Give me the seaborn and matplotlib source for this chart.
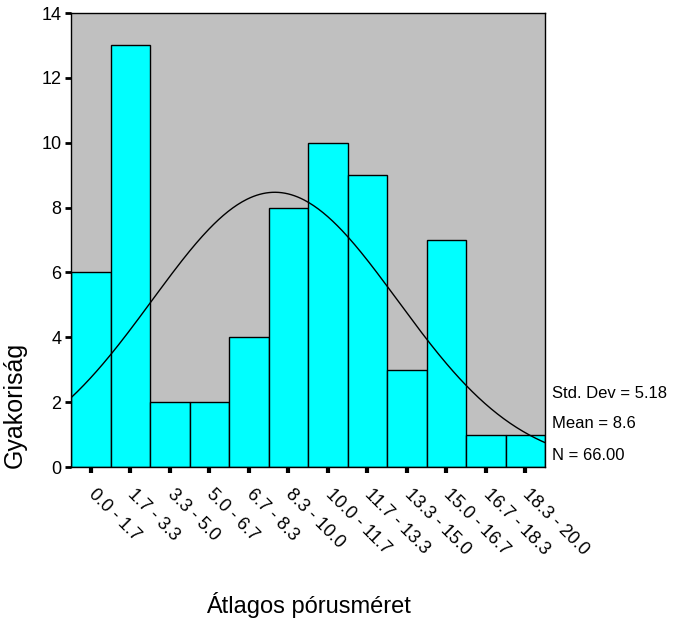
import numpy as np
import pandas as pd
import matplotlib
matplotlib.use("Agg")
import matplotlib.pyplot as plt
import seaborn as sns

# Data
bin_labels = ["0.0 - 1.7", "1.7 - 3.3", "3.3 - 5.0", "5.0 - 6.7", "6.7 - 8.3", "8.3 - 10.0",
              "10.0 - 11.7", "11.7 - 13.3", "13.3 - 15.0", "15.0 - 16.7", "16.7 - 18.3", "18.3 - 20.0"]
counts = [6, 13, 2, 2, 4, 8, 10, 9, 3, 7, 1, 1]
range_min, range_max = 0.0, 20.0
std_dev = 5.18
mean = 8.6
n_total = 66
yticks = [0, 2, 4, 6, 8, 10, 12, 14]

sns.set_theme(style="white")
plt.rcParams['font.family'] = ['Liberation Sans', 'DejaVu Sans']
plt.rcParams.update({"text.color": "black", "axes.labelcolor": "black",
                     "xtick.color": "black", "ytick.color": "black"})

nb = len(counts)
edges = np.linspace(range_min, range_max, nb + 1)
centers = (edges[:-1] + edges[1:]) / 2
bw = edges[1] - edges[0]

fig = plt.figure(figsize=(6.85, 6.28), dpi=100)
ax = fig.add_axes([71/685, 1 - 467/628, (545-71)/685, (467-13)/628])
ax.set_facecolor("#C0C0C0")

df = pd.DataFrame({"x": centers, "w": counts})
sns.histplot(data=df, x="x", weights="w", bins=[float(e) for e in edges], ax=ax, color="#00FFFF",
             edgecolor="black", linewidth=1.0, alpha=1.0, stat="count")

xs = np.linspace(range_min, range_max, 300)
ys = n_total * bw * np.exp(-0.5 * ((xs - mean) / std_dev) ** 2) / (std_dev * np.sqrt(2 * np.pi))
sns.lineplot(x=xs, y=ys, ax=ax, color="black", linewidth=1.0)

ax.set_xlim(range_min, range_max)
ax.set_ylim(0, 14)
ax.set_yticks(yticks)
ax.set_yticklabels([str(v) for v in yticks], fontsize=13)
ax.set_xticks(centers)
ax.set_xticklabels(bin_labels, rotation=-45, ha="left", va="center", rotation_mode="anchor", fontsize=13)
ax.tick_params(axis="y", direction="out", length=4, width=2, left=True, pad=3)
ax.tick_params(axis="x", direction="out", length=4, width=3, bottom=True, pad=14)
for s in ax.spines.values():
    s.set_color("black")
    s.set_linewidth(1.0)
    s.set_visible(True)

ax.set_xlabel("")
ax.set_ylabel("")
fig.text(308/685, 1 - 605/628, "Átlagos pórusméret", fontsize=17, ha="center", va="center")
fig.text(15/685, 1 - 468/628, "Gyakoriság", fontsize=18, rotation=90, ha="center", va="bottom")

fig.text(552/685, 1 - 393/628, f"Std. Dev = {std_dev:.2f}", fontsize=12, va="center", ha="left")
fig.text(552/685, 1 - 424/628, f"Mean = {mean:.1f}", fontsize=12, va="center", ha="left")
fig.text(552/685, 1 - 455/628, f"N = {n_total:.2f}", fontsize=12, va="center", ha="left")

fig.savefig("out.png", dpi=100)
